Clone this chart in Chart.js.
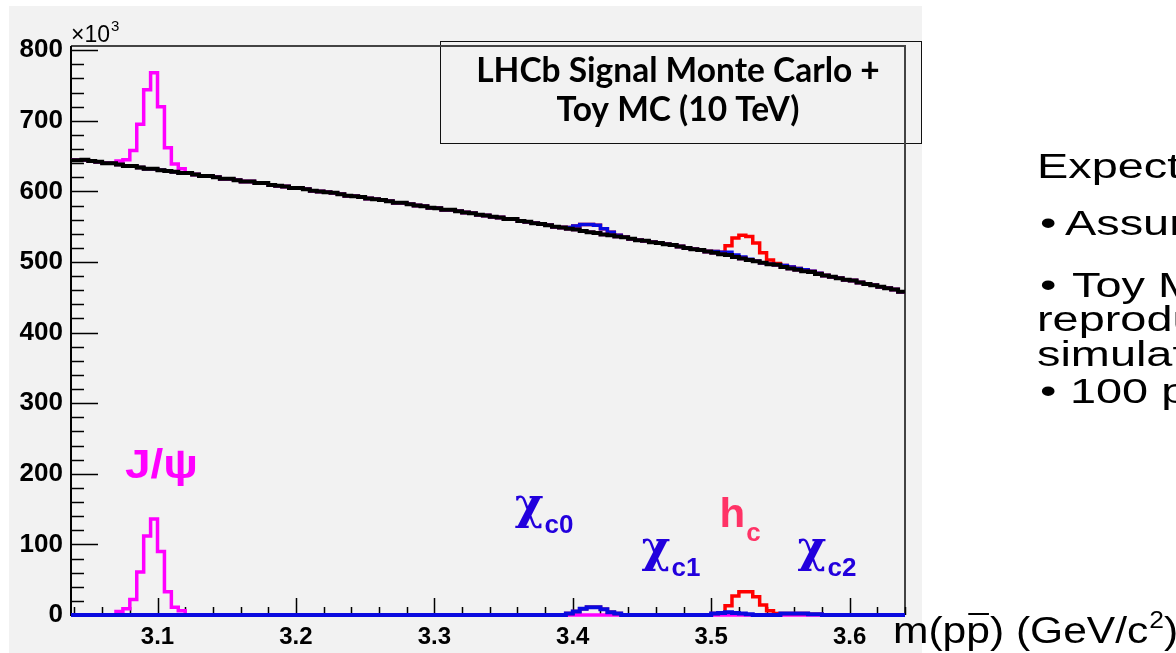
<!DOCTYPE html>
<html>
<head>
<meta charset="utf-8">
<title>Charmonium signals in m(pp̄)</title>
<script src="https://cdn.jsdelivr.net/npm/chart.js@4.4.1/dist/chart.umd.min.js"></script>
<style>
html, body { margin: 0; padding: 0; background: #fff; }
#wrap { position: relative; width: 1176px; height: 653px; }
</style>
</head>
<body>
<div id="wrap"><canvas id="massChart" width="1176" height="653"></canvas></div>
<script>
// histogram binning: 5 MeV bins from 3.04 GeV
var binStart = 3.04;
var binWidth = 0.005;
var xMin = 3.0375, xMax = 3.64;
var yMax = 806;

// toy MC background, x10^3 entries per bin
var background = [
    644, 645, 643, 642, 640, 640, 638, 636, 636, 634,
    632, 632, 630, 629, 628, 626, 626, 624, 622, 622,
    620, 618, 618, 616, 614, 614, 612, 612, 609, 608,
    607, 605, 605, 603, 601, 600, 599, 598, 596, 594,
    593, 592, 590, 589, 588, 586, 584, 584, 582, 580,
    579, 577, 576, 574, 574, 572, 570, 569, 567, 566,
    564, 563, 561, 561, 558, 557, 555, 554, 552, 550,
    549, 547, 546, 544, 542, 541, 539, 538, 536, 535,
    533, 531, 530, 528, 527, 525, 524, 522, 520, 518,
    517, 515, 513, 511, 510, 507, 505, 503, 501, 499,
    497, 496, 493, 491, 489, 487, 486, 483, 481, 479,
    477, 475, 474, 471, 469, 467, 465, 463, 461, 458
];

// signal MC, first bin low edge + contents
var jpsiFrom = 3.07;
var jpsi = [5, 9, 22, 61, 112, 136, 90, 33, 11, 6];
var chic0From = 3.395;
var chic0 = [2, 5, 9, 11, 11, 8, 4, 2];
var chic1From = 3.50;
var chic1 = [2, 3, 4, 3, 2, 1];
var hcFrom = 3.51;
var hc = [9, 24, 31, 32, 26, 14, 6, 2];
var chic2From = 3.55;
var chic2 = [2, 2, 2, 2, 1, 1];

var xTicks = [3.1, 3.2, 3.3, 3.4, 3.5, 3.6];
var yTicks = [0, 100, 200, 300, 400, 500, 600, 700, 800];

var peakLabels = [
    { text: 'J/ψ', sub: '', x: 3.0765, y: 194, color: '#ff00ff' },
    { text: 'χ', sub: 'c0', x: 3.358, y: 136, color: '#2200dd' },
    { text: 'χ', sub: 'c1', x: 3.4497, y: 75, color: '#2200dd' },
    { text: 'h', sub: 'c', x: 3.506, y: 125, color: '#ff3366' },
    { text: 'χ', sub: 'c2', x: 3.5624, y: 75, color: '#2200dd' }
];

var nBins = background.length;

function spread(from, vals) {
    var out = [];
    for (var i = 0; i < nBins; i++) out.push(0);
    var k0 = Math.round((from - binStart) / binWidth);
    for (var j = 0; j < vals.length; j++) out[k0 + j] = vals[j];
    return out;
}

function add() {
    var out = [];
    for (var i = 0; i < nBins; i++) {
        var s = 0;
        for (var a = 0; a < arguments.length; a++) s += arguments[a][i];
        out.push(s);
    }
    return out;
}

// step points at low bin edges, closed at the last high edge
function histPoints(vals) {
    var pts = [{ x: xMin, y: vals[0] }];
    for (var k = 0; k < nBins; k++) {
        pts.push({ x: binStart + k * binWidth, y: vals[k] });
    }
    pts.push({ x: binStart + nBins * binWidth, y: vals[nBins - 1] });
    return pts;
}

var jpsiH = spread(jpsiFrom, jpsi);
var chiH = add(spread(chic0From, chic0), spread(chic1From, chic1), spread(chic2From, chic2));
var chiHcH = add(chiH, spread(hcFrom, hc));

function histSet(vals, color, width, order) {
    return {
        data: histPoints(vals),
        borderColor: color,
        borderWidth: width,
        // 'before': hold the previous bin's value up to the next edge
        stepped: 'before',
        pointRadius: 0,
        fill: false,
        clip: 6,
        order: order
    };
}

var datasets = [
    histSet(background, '#000000', 4, 0),
    histSet(chiH, '#0a0ae0', 4, 1),
    histSet(add(background, jpsiH), '#ff00ff', 3.5, 2),
    histSet(add(background, chiH), '#0a0ae0', 3.5, 3),
    histSet(add(background, chiHcH), '#ff0000', 3.5, 4),
    histSet(chiHcH, '#ff0000', 3.5, 5),
    histSet(jpsiH, '#ff00ff', 3.5, 6)
];

var sans = '"Liberation Sans", Arial, sans-serif';

// text drawn wider than its font height, as on the slide
function wideText(ctx, text, x, y, sx) {
    ctx.save();
    ctx.translate(x, y);
    ctx.scale(sx, 1);
    ctx.fillText(text, 0, 0);
    var w = ctx.measureText(text).width * sx;
    ctx.restore();
    return w;
}

var decor = {
    id: 'decor',
    beforeDraw: function (chart) {
        var ctx = chart.ctx;
        ctx.save();
        ctx.fillStyle = '#ffffff';
        ctx.fillRect(0, 0, chart.width, chart.height);
        ctx.fillStyle = '#f2f2f2';
        ctx.fillRect(9, 6, 913, 647);
        ctx.restore();
    },
    beforeDatasetsDraw: function (chart) {
        var ctx = chart.ctx;
        var a = chart.chartArea;
        var xs = chart.scales.x, ys = chart.scales.y;
        ctx.save();
        // text box
        ctx.strokeStyle = '#111';
        ctx.lineWidth = 1;
        ctx.strokeRect(440.5, 41.5, 481, 102);
        // top and right frame
        ctx.strokeStyle = '#444';
        ctx.lineWidth = 2;
        ctx.beginPath();
        ctx.moveTo(a.left, a.top);
        ctx.lineTo(a.right, a.top);
        ctx.lineTo(a.right, a.bottom);
        ctx.stroke();
        // axes
        ctx.strokeStyle = '#000';
        ctx.lineWidth = 2;
        ctx.beginPath();
        ctx.moveTo(a.left, a.top);
        ctx.lineTo(a.left, a.bottom);
        ctx.lineTo(a.right, a.bottom);
        ctx.stroke();
        // inner ticks
        ctx.lineWidth = 1.5;
        ctx.beginPath();
        for (var v = 0; v <= 800; v += 20) {
            var py = Math.round(ys.getPixelForValue(v)) + 0.5;
            var len = (v % 100 === 0) ? 27 : 13;
            ctx.moveTo(a.left, py);
            ctx.lineTo(a.left + len, py);
        }
        for (var i = 0; i <= 30; i++) {
            var xv = 3.04 + i * 0.02;
            var px = Math.round(xs.getPixelForValue(xv)) + 0.5;
            var major = Math.abs(xv * 10 - Math.round(xv * 10)) < 1e-6;
            ctx.moveTo(px, a.bottom);
            ctx.lineTo(px, a.bottom - (major ? 17 : 8));
        }
        ctx.stroke();
        ctx.restore();
    },
    afterDraw: function (chart) {
        var ctx = chart.ctx;
        var xs = chart.scales.x, ys = chart.scales.y;
        ctx.save();
        ctx.textBaseline = 'alphabetic';

        // axis multiplier
        ctx.fillStyle = '#000';
        ctx.font = '23px ' + sans;
        ctx.fillText('×10', 71, 42);
        var mw = ctx.measureText('×10').width;
        ctx.font = '15px ' + sans;
        ctx.fillText('3', 71 + mw + 1, 31);

        // box title
        ctx.textAlign = 'center';
        ctx.font = 'bold 33.5px Lato, "Open Sans", sans-serif';
        ctx.fillText('LHCb Signal Monte Carlo +', 678, 82);
        ctx.fillText('Toy MC (10 TeV)', 678, 121);
        ctx.textAlign = 'left';

        // peak names
        peakLabels.forEach(function (p) {
            var px = xs.getPixelForValue(p.x);
            var py = ys.getPixelForValue(p.y);
            ctx.fillStyle = p.color;
            var w;
            if (p.text === 'χ') {
                ctx.font = 'bold 44px "DejaVu Serif", serif';
                w = wideText(ctx, p.text, px, py, 1);
            } else {
                ctx.font = 'bold 40px ' + sans;
                w = wideText(ctx, p.text, px, py, p.sub ? 1.05 : 1.15);
            }
            if (p.sub) {
                ctx.font = 'bold 26px ' + sans;
                ctx.fillText(p.sub, px + w + 1, py + 14);
            }
        });

        // x axis title: m(p pbar) (GeV/c^2)
        ctx.fillStyle = '#000';
        var sx = 1.15;
        ctx.font = '37px ' + sans;
        var tx = 893, ty = 643;
        tx += wideText(ctx, 'm(p', tx, ty, sx);
        var pw = wideText(ctx, 'p', tx, ty, sx);
        ctx.fillRect(tx + 2, ty - 30, pw - 3, 2);
        tx += pw;
        tx += wideText(ctx, ') (GeV/c', tx, ty, sx);
        ctx.font = '23px ' + sans;
        tx += wideText(ctx, '2', tx + 1, ty - 15, sx) + 1;
        ctx.font = '37px ' + sans;
        wideText(ctx, ')', tx, ty, sx);

        // slide text at the right
        var st = 1.32;
        ctx.font = '35.5px ' + sans;
        wideText(ctx, 'Expected yields', 1037, 178, st);
        wideText(ctx, '•', 1040, 235, st);
        wideText(ctx, 'Assuming', 1065, 235, st);
        wideText(ctx, '•', 1040, 297, st);
        wideText(ctx, 'Toy MC', 1072, 297, st);
        wideText(ctx, 'reproduces', 1037, 331, st);
        wideText(ctx, 'simulation', 1037, 366, st);
        wideText(ctx, '•', 1040, 403, st);
        wideText(ctx, '100 pb', 1070, 403, st);
        ctx.restore();
    }
};

new Chart(document.getElementById('massChart'), {
    type: 'line',
    data: { datasets: datasets },
    options: {
        responsive: false,
        animation: false,
        events: [],
        layout: { padding: { left: 0, top: 46, right: 271, bottom: 0 } },
        plugins: { legend: { display: false }, tooltip: { enabled: false } },
        scales: {
            x: {
                type: 'linear',
                min: xMin,
                max: xMax,
                grid: { display: false, drawTicks: false },
                border: { display: false },
                afterBuildTicks: function (scale) {
                    scale.ticks = xTicks.map(function (v) { return { value: v }; });
                },
                afterFit: function (scale) { scale.height = 38; },
                ticks: {
                    padding: 8,
                    color: '#000',
                    maxRotation: 0,
                    font: { family: 'Liberation Sans', weight: 'bold', size: 24 },
                    callback: function (v) { return v.toFixed(1); }
                }
            },
            y: {
                min: 0,
                max: yMax,
                grid: { display: false, drawTicks: false },
                border: { display: false },
                afterBuildTicks: function (scale) {
                    scale.ticks = yTicks.map(function (v) { return { value: v }; });
                },
                afterFit: function (scale) { scale.width = 71; },
                ticks: {
                    padding: 8,
                    color: '#000',
                    font: { family: 'Liberation Sans', weight: 'bold', size: 26 }
                }
            }
        }
    },
    plugins: [decor]
});
</script>
</body>
</html>
